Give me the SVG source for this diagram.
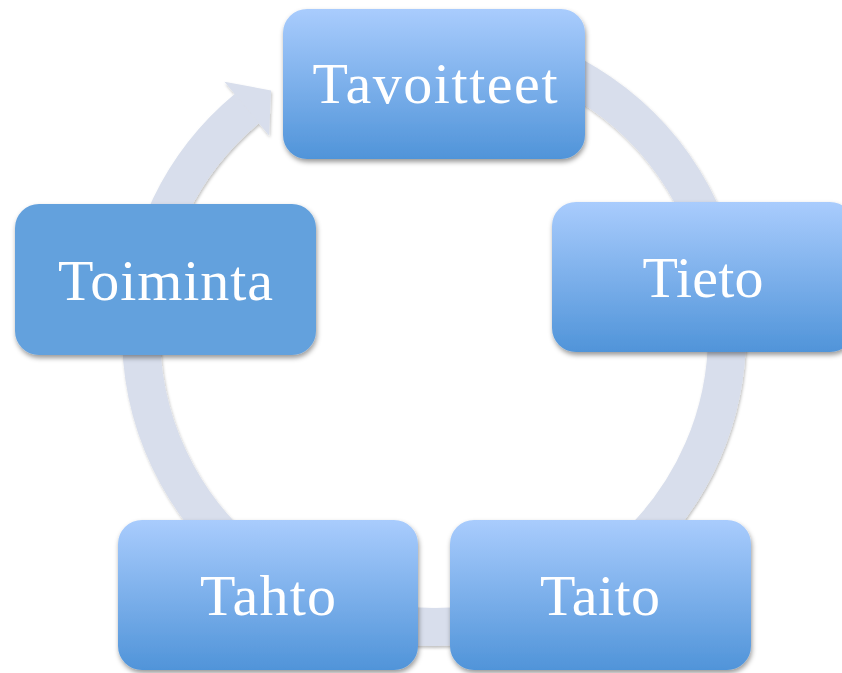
<svg xmlns="http://www.w3.org/2000/svg" width="842" height="673" viewBox="0 0 842 673">
  <defs>
    <linearGradient id="boxGrad" x1="0" y1="0" x2="0" y2="1">
      <stop offset="0" stop-color="#a9ccfd"/>
      <stop offset="1" stop-color="#5094d9"/>
    </linearGradient>
    <filter id="boxShadow" x="-10%" y="-10%" width="125%" height="130%">
      <feDropShadow dx="1" dy="3" stdDeviation="2.5" flood-color="#000" flood-opacity="0.4"/>
    </filter>
    <filter id="ringShadow" x="-10%" y="-10%" width="120%" height="120%">
      <feDropShadow dx="1" dy="2" stdDeviation="1.5" flood-color="#000" flood-opacity="0.25"/>
    </filter>
  </defs>
  <style>
    .box { fill: url(#boxGrad); filter: url(#boxShadow); }
    .flat { fill: #64a1dd; filter: url(#boxShadow); }
    .label { font-family: "Liberation Serif", "Times New Roman", serif; font-size: 58px; fill: #ffffff; text-anchor: middle; }
    .ring { fill: none; stroke: #d8deec; stroke-width: 38; stroke-linecap: butt; }
    .head { fill: #d8deec; }
  </style>
  <rect width="842" height="673" fill="#ffffff"/>
  <g id="connectors" filter="url(#ringShadow)">
    <path class="ring" d="M 484.9 45.4 A 293 293 0 1 1 246.8 108.6"/>
    <polygon class="head" points="224.4,81.7 234.6,94.0 258.9,123.2 269.1,135.5 271.0,90.5"/>
  </g>
  <g id="node-tavoitteet">
    <rect class="box" x="283" y="9" width="302" height="150" rx="24" ry="24"/>
    <text class="label" x="435" y="103" textLength="245">Tavoitteet</text>
  </g>
  <g id="node-tieto">
    <rect class="box" x="552" y="202" width="302" height="150" rx="24" ry="24"/>
    <text class="label" x="703" y="297" textLength="121">Tieto</text>
  </g>
  <g id="node-taito">
    <rect class="box" x="450" y="520" width="301" height="150" rx="24" ry="24"/>
    <text class="label" x="600" y="615" textLength="120">Taito</text>
  </g>
  <g id="node-tahto">
    <rect class="box" x="118" y="520" width="300" height="150" rx="24" ry="24"/>
    <text class="label" x="268" y="615" textLength="136">Tahto</text>
  </g>
  <g id="node-toiminta">
    <rect class="flat" x="15" y="204" width="301" height="151" rx="24" ry="24"/>
    <text class="label" x="165.5" y="300" textLength="215">Toiminta</text>
  </g>
</svg>
